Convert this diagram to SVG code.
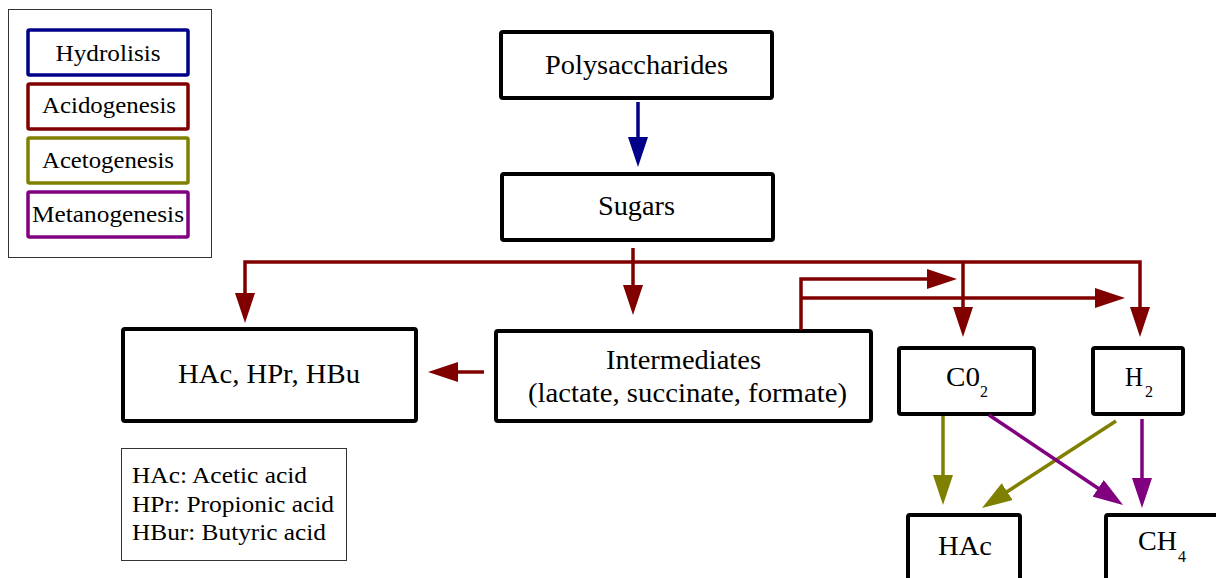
<svg xmlns="http://www.w3.org/2000/svg" width="1216" height="578" viewBox="0 0 1216 578" font-family="'Liberation Serif', 'Times New Roman', Times, serif">
<style>
text{font-family:'Liberation Serif','Times New Roman',Times,serif;fill:#000}
.t{font-size:27px;text-anchor:middle}
.lg{font-size:23px;text-anchor:middle}
.ab{font-size:24px}
.sub{font-size:16px}
.box{fill:#fff;stroke:#000;stroke-width:4}
.thin{fill:#fff;stroke:#333;stroke-width:1}
.lgb{fill:#fff;stroke-width:3.5}
.c{fill:none;stroke-width:3.5;stroke-linejoin:miter}
.blue{stroke:#000088}
.red{stroke:#800000}
.olive{stroke:#808000}
.purple{stroke:#800080}
</style>
<defs>
<marker id="aBlue" markerUnits="userSpaceOnUse" markerWidth="30" markerHeight="20" refX="12" refY="10" orient="auto"><path d="M0,0 L30,10 L0,20 z" fill="#000088"/></marker>
<marker id="aRed" markerUnits="userSpaceOnUse" markerWidth="30" markerHeight="20" refX="12" refY="10" orient="auto"><path d="M0,0 L30,10 L0,20 z" fill="#800000"/></marker>
<marker id="aOlive" markerUnits="userSpaceOnUse" markerWidth="30" markerHeight="20" refX="12" refY="10" orient="auto"><path d="M0,0 L30,10 L0,20 z" fill="#808000"/></marker>
<marker id="aPurple" markerUnits="userSpaceOnUse" markerWidth="30" markerHeight="20" refX="12" refY="10" orient="auto"><path d="M0,0 L30,10 L0,20 z" fill="#800080"/></marker>
</defs>
<rect width="1216" height="578" fill="#fff"/>

<g id="legend">
<rect class="thin" x="8.5" y="9.5" width="203" height="248"/>
<rect class="lgb" x="28" y="30" width="160" height="45" rx="1.5" stroke="#000088"/>
<text class="lg" x="108" y="61" textLength="105" lengthAdjust="spacingAndGlyphs">Hydrolisis</text>
<rect class="lgb" x="28" y="84" width="160" height="45" rx="1.5" stroke="#800000"/>
<text class="lg" x="109" y="113" textLength="134" lengthAdjust="spacingAndGlyphs">Acidogenesis</text>
<rect class="lgb" x="28" y="138" width="160" height="45" rx="1.5" stroke="#808000"/>
<text class="lg" x="108" y="168" textLength="132" lengthAdjust="spacingAndGlyphs">Acetogenesis</text>
<rect class="lgb" x="28" y="192" width="160" height="45" rx="1.5" stroke="#800080"/>
<text class="lg" x="108" y="222" textLength="152" lengthAdjust="spacingAndGlyphs">Metanogenesis</text>
</g>

<g id="polysaccharides">
<rect class="box" x="501" y="32" width="271" height="66" rx="2"/>
<text class="t" x="636.5" y="74" textLength="183" lengthAdjust="spacingAndGlyphs">Polysaccharides</text>
</g>

<g id="sugars">
<rect class="box" x="502" y="174" width="271" height="66" rx="2"/>
<text class="t" x="636.5" y="215" textLength="77" lengthAdjust="spacingAndGlyphs">Sugars</text>
</g>

<g id="acids">
<rect class="box" x="123" y="329" width="293" height="92" rx="2"/>
<text class="t" x="269" y="383" textLength="182" lengthAdjust="spacingAndGlyphs">HAc, HPr, HBu</text>
</g>

<g id="intermediates">
<rect class="box" x="496" y="331" width="375" height="90" rx="2"/>
<text class="t" x="683.5" y="369" textLength="155" lengthAdjust="spacingAndGlyphs">Intermediates</text>
<text class="t" x="687.5" y="402" textLength="319" lengthAdjust="spacingAndGlyphs">(lactate, succinate, formate)</text>
</g>

<g id="co2">
<rect class="box" x="899" y="348" width="135" height="66" rx="2"/>
<text style="font-size:27px" x="946" y="386" textLength="34" lengthAdjust="spacingAndGlyphs">C0</text>
<text class="sub" x="980" y="397">2</text>
</g>

<g id="h2">
<rect class="box" x="1093" y="348" width="90" height="66" rx="2"/>
<text style="font-size:27px" x="1125" y="386" textLength="18" lengthAdjust="spacingAndGlyphs">H</text>
<text class="sub" x="1145" y="397">2</text>
</g>

<g id="hac">
<rect class="box" x="908" y="515" width="112" height="80" rx="2"/>
<text class="t" x="965" y="555" textLength="54" lengthAdjust="spacingAndGlyphs">HAc</text>
</g>

<g id="ch4">
<rect class="box" x="1106" y="515" width="130" height="80" rx="2"/>
<text style="font-size:27px" x="1138" y="550" textLength="39" lengthAdjust="spacingAndGlyphs">CH</text>
<text class="sub" x="1178" y="562">4</text>
</g>

<g id="abbreviations">
<rect class="thin" x="121.5" y="448.5" width="225" height="112"/>
<text class="ab" x="132" y="483" textLength="175" lengthAdjust="spacingAndGlyphs">HAc: Acetic acid</text>
<text class="ab" x="132" y="512" textLength="202" lengthAdjust="spacingAndGlyphs">HPr: Propionic acid</text>
<text class="ab" x="132" y="540" textLength="194" lengthAdjust="spacingAndGlyphs">HBur: Butyric acid</text>
</g>

<g id="connectors">
<path class="c blue" stroke-width="4" d="M638,102 L638,149" marker-end="url(#aBlue)"/>
<path class="c red" d="M633,248 L633,297" marker-end="url(#aRed)"/>
<path class="c red" d="M633,262 L245,262 L245,305" marker-end="url(#aRed)"/>
<path class="c red" d="M633,262 L1140,262 L1140,319" marker-end="url(#aRed)"/>
<path class="c red" d="M963,262 L963,319" marker-end="url(#aRed)"/>
<path class="c red" d="M801,330 L801,279 L939,279" marker-end="url(#aRed)"/>
<path class="c red" d="M801,298 L1107,298" marker-end="url(#aRed)"/>
<path class="c red" d="M484,372 L446,372" marker-end="url(#aRed)"/>
<path class="c olive" stroke-width="4" d="M943,416 L943,487" marker-end="url(#aOlive)"/>
<path class="c olive" stroke-width="4" d="M1116,421 L997.1,498.2" marker-end="url(#aOlive)"/>
<path class="c purple" stroke-width="4" d="M989,415 L1108.1,495" marker-end="url(#aPurple)"/>
<path class="c purple" stroke-width="4" d="M1142,419 L1142,490" marker-end="url(#aPurple)"/>
</g>
</svg>
